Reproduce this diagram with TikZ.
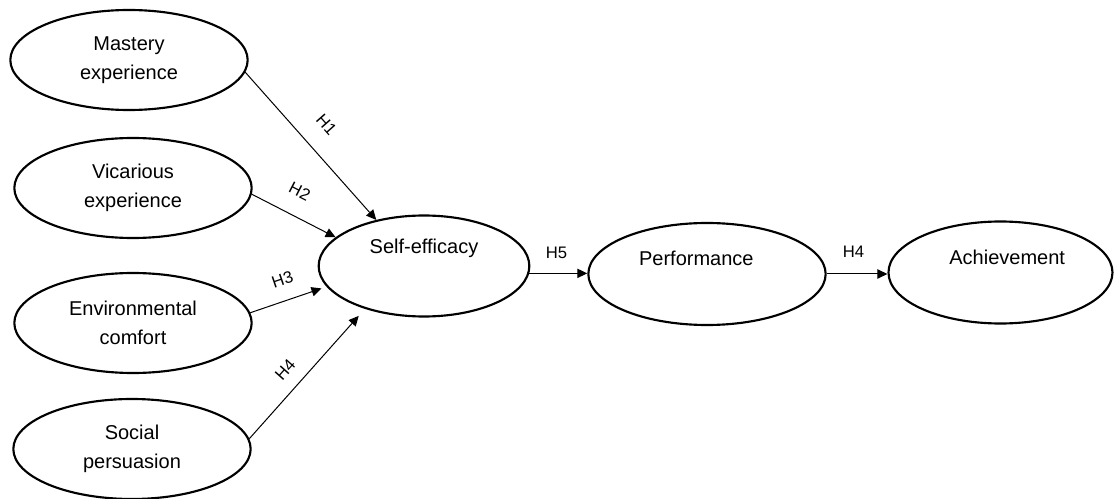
\documentclass[tikz,border=0pt]{standalone}
\usepackage{fontspec}
\setmainfont{Liberation Sans}
\usetikzlibrary{shapes.geometric,arrows.meta}
\begin{document}
\begin{tikzpicture}[x=0.75pt,y=-0.75pt,
  construct/.style={draw, ellipse, line width=1.6pt, inner sep=0pt,
    minimum width=178pt, minimum height=75pt, align=center,
    font=\fontsize{15}{22}\selectfont},
  caption/.style={inner sep=0pt, font=\fontsize{15}{22}\selectfont},
  link/.style={-{Triangle[length=7.5pt,width=7pt]}, line width=0.75pt},
  hyp/.style={inner sep=0pt, sloped, font=\fontsize{12.5}{15}\selectfont}
]
\useasboundingbox (0,0) rectangle (1115,499);

% antecedents
\node[construct] (mastery)   at (129,60)  {Mastery\\experience};
\node[construct] (vicarious) at (133,188) {Vicarious\\experience};
\node[construct] (environ)   at (133,323) {Environmental\\comfort};
\node[construct] (social)    at (132,449) {Social\\persuasion};

% mediator and outcomes
\node[construct, minimum width=158pt, minimum height=75.75pt] (self) at (424,266) {};
\node[caption] (selftext) at ([yshift=13pt]self.center) {Self-efficacy};
\node[construct, minimum height=76.5pt] (perf) at (707,274) {};
\node[caption] (perftext) at ([xshift=-8pt,yshift=11.5pt]perf.center) {Performance};
\node[construct, minimum width=168pt, minimum height=76.5pt] (ach) at (1000.5,272.5) {};
\node[caption] (achtext) at ([xshift=5pt,yshift=11pt]ach.center) {Achievement};

% hypothesised paths
\draw[link] (mastery.-6.7) -- (self.136.3)
  node[hyp, pos=0.47, above=15pt] {H1};
\draw[link] (vicarious.-3) -- (self.162)
  node[hyp, pos=0.44, above=13.5pt] {H2};
\draw[link, shorten >=4pt] (environ.5) -- (self.192)
  node[hyp, pos=0.51, above=11pt] {H3};
\draw[link, shorten >=7pt] (social.5) -- (self.216)
  node[hyp, pos=0.435, above=9.7pt] {H4};
\draw[link] (self.-4.4) -- (self.-4.4 -| perf.west)
  node[hyp, pos=0.47, above=10.5pt] {H5};
\draw[link] (perf.east) -- (perf.east -| ach.west)
  node[hyp, pos=0.44, above=12pt] {H4};
\end{tikzpicture}
\end{document}
